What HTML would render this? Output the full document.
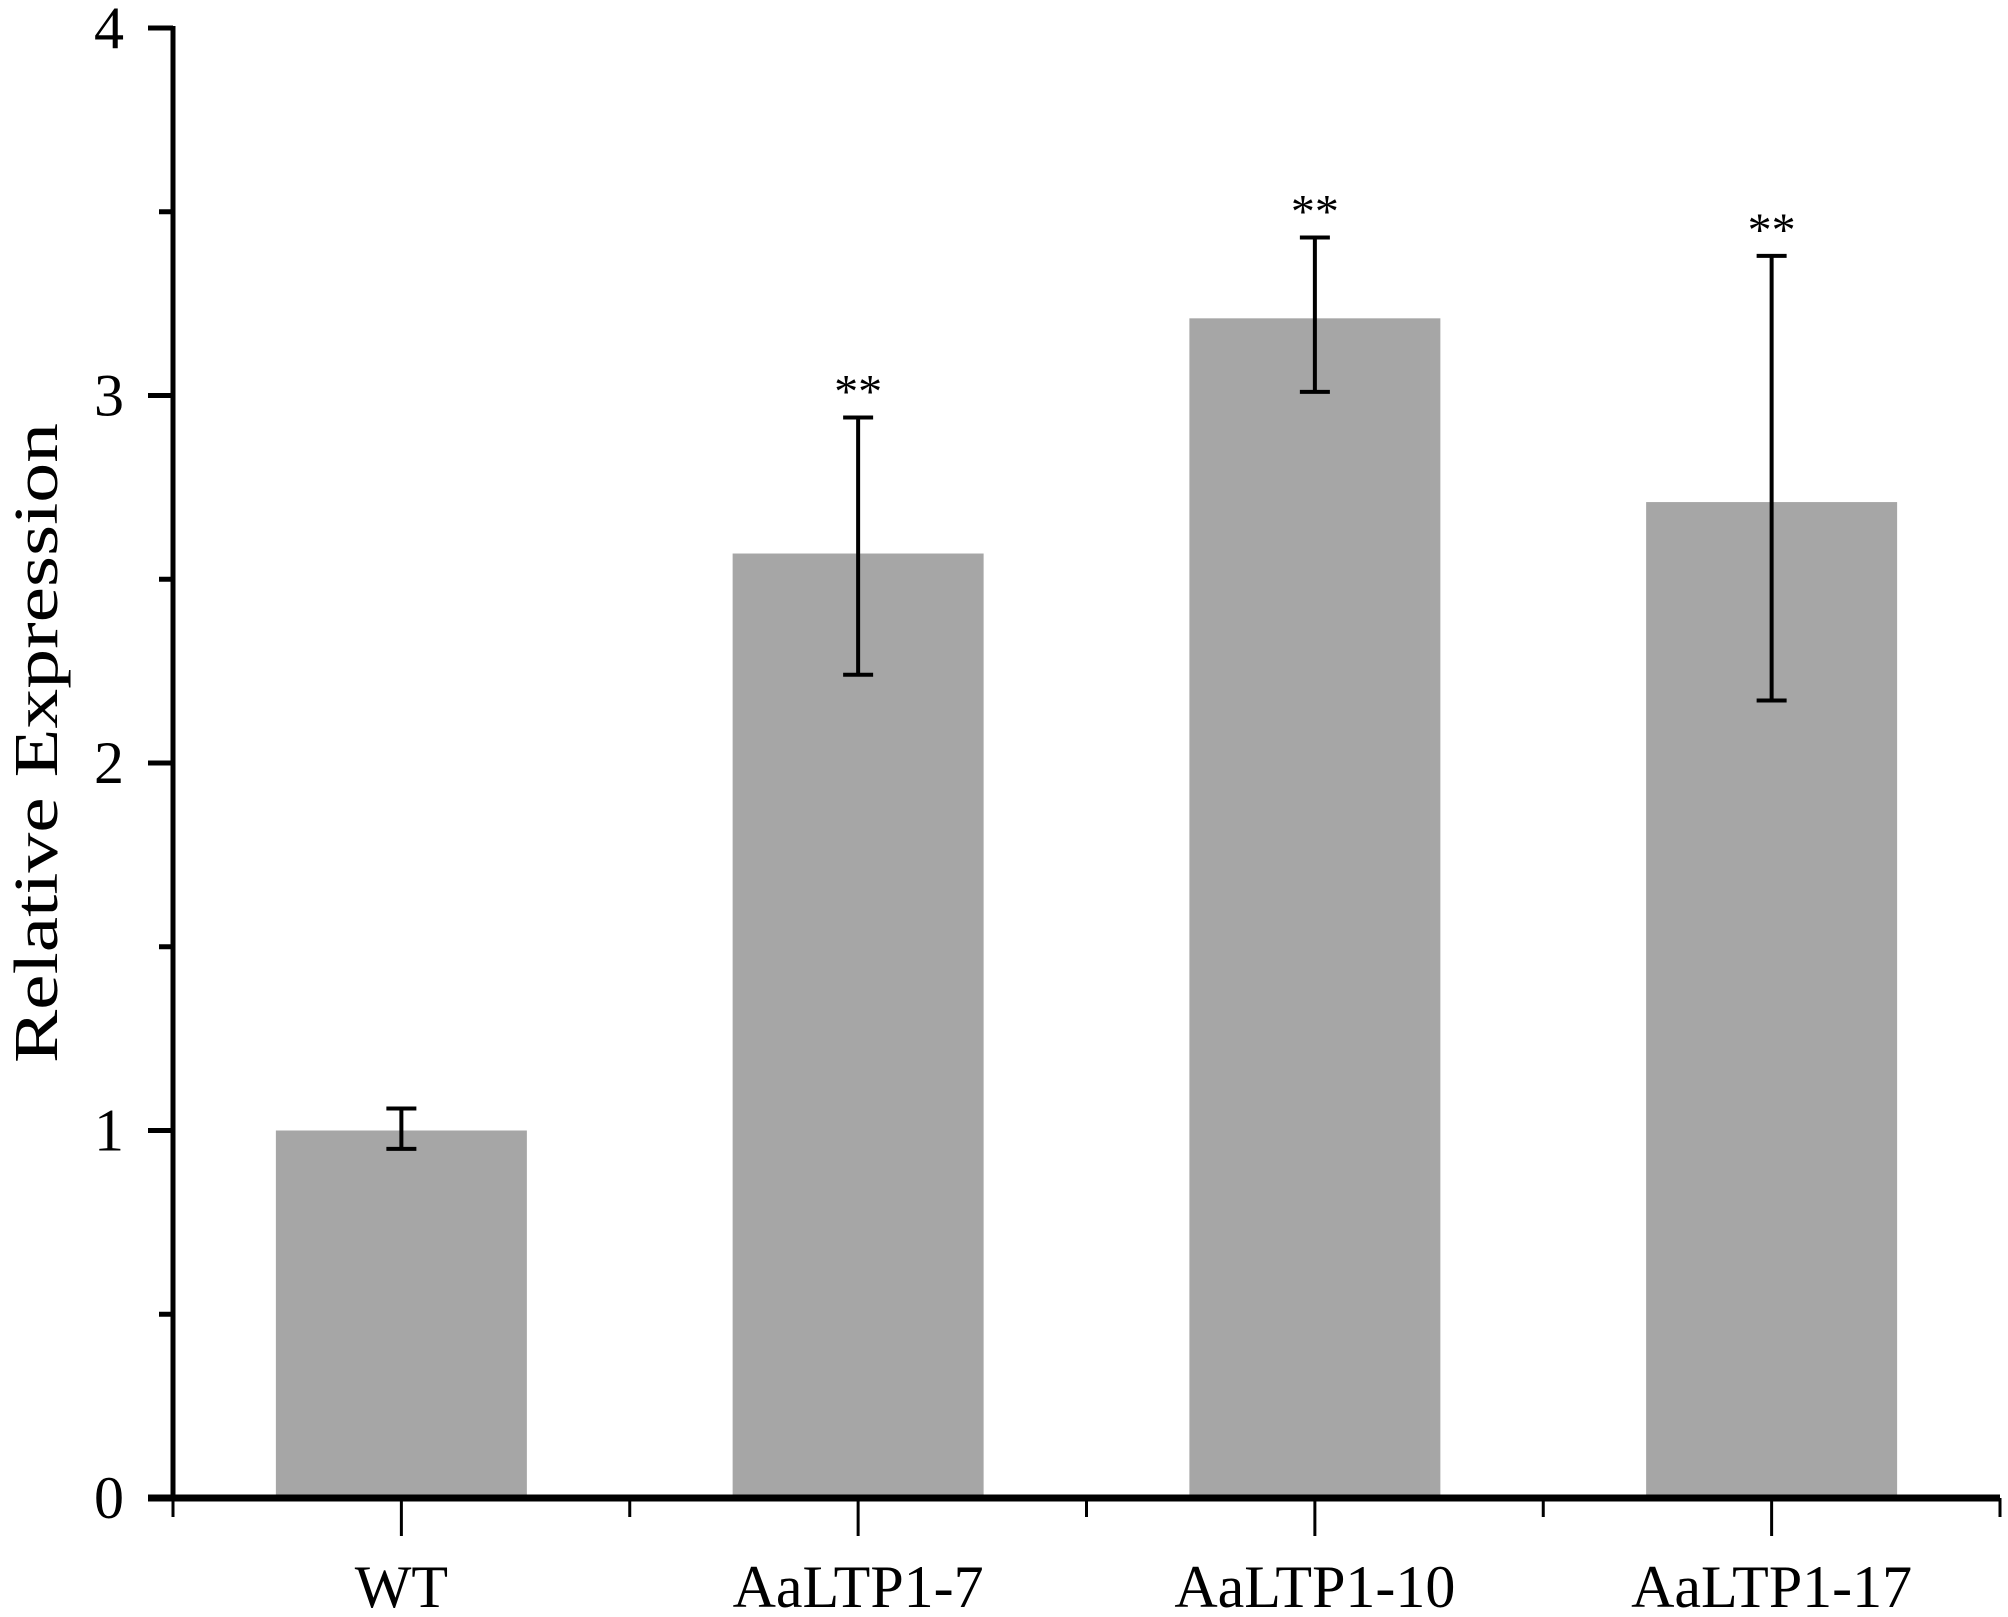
<!DOCTYPE html>
<html><head><meta charset="utf-8"><style>html,body{margin:0;padding:0;background:#fff}svg{display:block}</style></head>
<body>
<svg id="chart" width="2008" height="1617" xmlns="http://www.w3.org/2000/svg" font-family="'Liberation Serif', serif"></svg>
<script>
const categories = ["WT", "AaLTP1-7", "AaLTP1-10", "AaLTP1-17"];
const values = [1.0, 2.57, 3.21, 2.71];
const errLow = [0.95, 2.24, 3.01, 2.17];
const errHigh = [1.06, 2.94, 3.43, 3.38];
const signif = ["", "**", "**", "**"];
const yTicks = [0, 1, 2, 3, 4];
const yMinor = [0.5, 1.5, 2.5, 3.5];

const NS = "http://www.w3.org/2000/svg";
const svg = document.getElementById('chart');
const X0 = 173, X1 = 2000, Y0 = 1498, Y4 = 28;
const y = v => Y0 - (v / 4) * (Y0 - Y4);
const x = i => X0 + (i / categories.length) * (X1 - X0);
const bw = 251;
function mk(tag, attrs, parent) {
  const e = document.createElementNS(NS, tag);
  for (const k in attrs) e.setAttribute(k, attrs[k]);
  (parent || svg).appendChild(e);
  return e;
}
categories.forEach((c, i) => {
  const cx = x(i + 0.5);
  const r = mk('rect', {x: cx - bw / 2, y: y(values[i]), width: bw, height: Y0 - y(values[i]), fill: '#a6a6a6'});
  
  
  const g = mk('g', {stroke: '#000', 'stroke-width': 4});
  
  
  mk('line', {x1: cx, x2: cx, y1: y(errLow[i]), y2: y(errHigh[i])}, g);
  mk('line', {x1: cx - 15, x2: cx + 15, y1: y(errLow[i]), y2: y(errLow[i])}, g);
  mk('line', {x1: cx - 15, x2: cx + 15, y1: y(errHigh[i]), y2: y(errHigh[i])}, g);
  if (signif[i]) {
    const t = mk('text', {x: cx, y: y(errHigh[i]) - 10, 'text-anchor': 'middle', 'font-size': 48});
    t.textContent = signif[i];
    
    
  }
  const lab = mk('text', {x: cx, y: 1607, 'text-anchor': 'middle', 'font-size': 60});
  lab.textContent = c;
  
  
  mk('line', {x1: cx, x2: cx, y1: Y0, y2: 1536, stroke: '#000', 'stroke-width': 3});
});
for (let i = 0; i <= categories.length; i++) {
  mk('line', {x1: x(i), x2: x(i), y1: Y0, y2: 1517, stroke: '#000', 'stroke-width': 3});
}
// axes
const ya = mk('line', {x1: X0, x2: X0, y1: Y4 - 2, y2: Y0 + 3, stroke: '#000', 'stroke-width': 5});


const xa = mk('line', {x1: 148, x2: X1, y1: Y0, y2: Y0, stroke: '#000', 'stroke-width': 7});


yTicks.forEach(v => {
  mk('line', {x1: 148, x2: X0, y1: y(v), y2: y(v), stroke: '#000', 'stroke-width': 5});
  const t = mk('text', {x: 124, y: y(v) + 20, 'text-anchor': 'end', 'font-size': 60});
  t.textContent = v;
  
  
});
yMinor.forEach(v => {
  mk('line', {x1: 159, x2: X0, y1: y(v), y2: y(v), stroke: '#000', 'stroke-width': 5});
});
const yt = mk('text', {x: 0, y: 0, 'text-anchor': 'middle', 'font-size': 62, transform: 'translate(57,743) rotate(-90)', textLength: 640, lengthAdjust: 'spacingAndGlyphs'});
yt.textContent = 'Relative Expression';


</script>
</body></html>
